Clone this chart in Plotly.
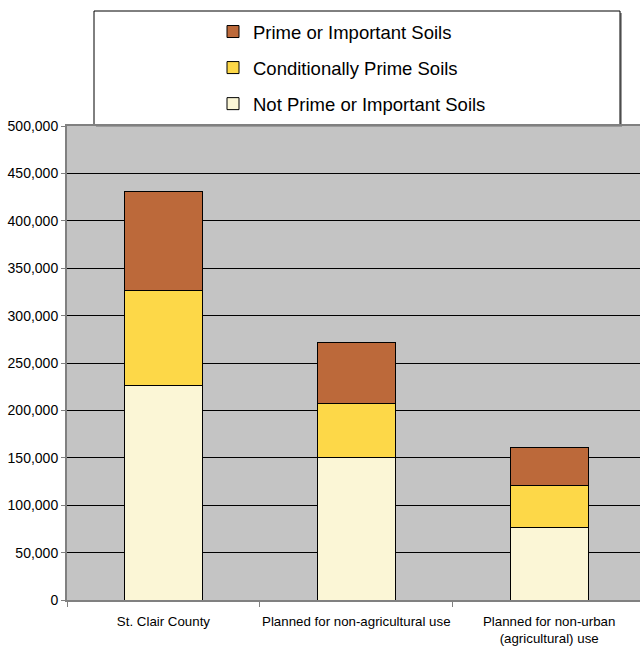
import plotly.graph_objects as go

# Land area by soil class (acres)
categories = [
    "St. Clair County",
    "Planned for non-agricultural use",
    "Planned for non-urban<br>(agricultural) use",
]
not_prime = [226000, 150000, 76000]
conditional = [101000, 57000, 45000]
prime = [104000, 65000, 40000]

series_names = [
    "Not Prime or Important Soils",
    "Conditionally Prime Soils",
    "Prime or Important Soils",
]
series_values = [not_prime, conditional, prime]
series_colors = ["#FBF6D6", "#FDD848", "#BC693A"]
legend_ranks = [3, 2, 1]

y_ticks = list(range(0, 500001, 50000))

W, H = 640, 652
L, R, T, B = 67, 0, 126, 52
PW, PH = W - L - R, H - T - B


def px_x(p):
    return (p - L) / PW


def px_y(p):
    return (H - B - p) / PH


fig = go.Figure()
for i, (name, vals, col) in enumerate(zip(series_names, series_values, series_colors)):
    fig.add_trace(go.Bar(
        x=categories,
        y=vals,
        name=name,
        legendgroup=f"g{i}",
        legendrank=legend_ranks[i],
        marker=dict(color=col, line=dict(color="#000000", width=1)),
        hoverinfo="x+y+name",
    ))

# legend frame with a soft shadow
fig.add_shape(type="rect", xref="paper", yref="paper",
              x0=px_x(96), x1=px_x(622), y0=px_y(127), y1=px_y(13),
              line=dict(width=0), fillcolor="#9a9a9a", layer="below")
fig.add_shape(type="rect", xref="paper", yref="paper",
              x0=px_x(94), x1=px_x(620), y0=px_y(125), y1=px_y(11),
              line=dict(color="#000000", width=1), fillcolor="#ffffff", layer="below")

fig.update_layout(
    width=W, height=H,
    margin=dict(l=L, r=R, t=T, b=B, pad=0, autoexpand=False),
    paper_bgcolor="#ffffff",
    plot_bgcolor="#C4C4C4",
    barmode="stack",
    bargap=0.596,
    font=dict(family="Liberation Sans, Arial, sans-serif", color="#000000"),
    showlegend=True,
    legend=dict(
        x=px_x(213), y=px_y(13), xanchor="left", yanchor="top",
        traceorder="grouped", tracegroupgap=9,
        bgcolor="rgba(0,0,0,0)", borderwidth=0,
        font=dict(size=18.5, color="#000000"),
        itemclick=False, itemdoubleclick=False,
    ),
    xaxis=dict(
        type="category",
        range=[-0.5, 2.471],
        showline=True, linecolor="#808080", linewidth=2, mirror=True,
        ticks="outside", tickson="boundaries", ticklen=5, tickcolor="#808080",
        tickfont=dict(size=13.3),
        tickangle=0,
        ticklabelstandoff=8,
        automargin=False,
        showgrid=False,
        fixedrange=True,
    ),
    yaxis=dict(
        range=[0, 500000],
        tickvals=y_ticks,
        tickformat=",",
        showgrid=True, gridcolor="#000000", gridwidth=1,
        showline=True, linecolor="#808080", linewidth=2,
        ticks="outside", ticklen=4, tickcolor="#808080",
        tickfont=dict(size=14),
        automargin=False,
        zeroline=False,
        fixedrange=True,
    ),
)

fig.write_html("out.html")
